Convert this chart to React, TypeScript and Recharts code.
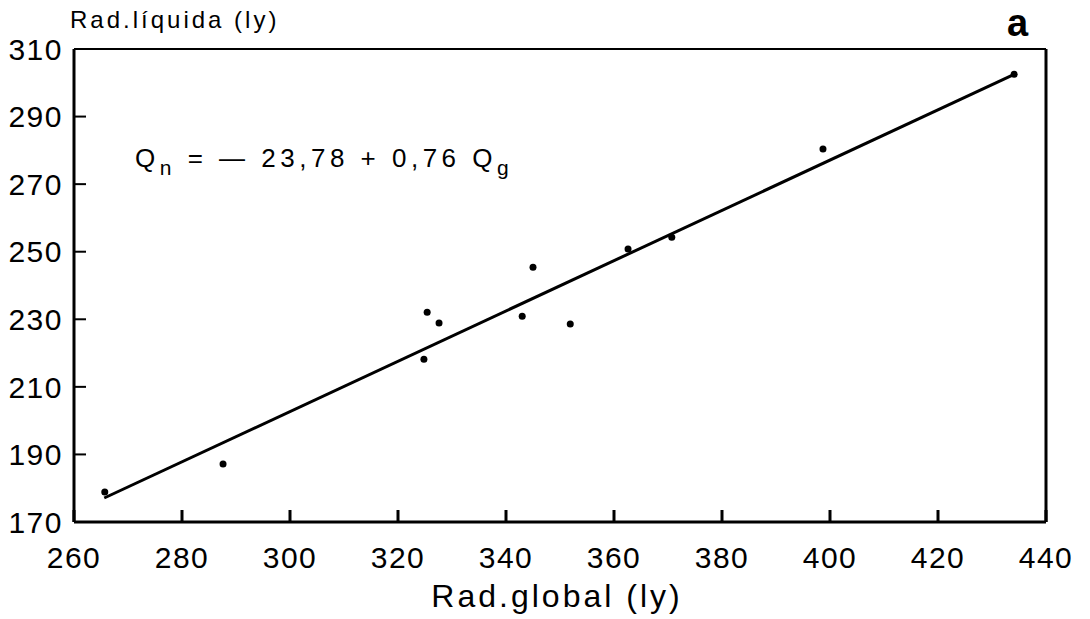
import {
	ScatterChart,
	Scatter,
	XAxis,
	YAxis,
	ReferenceLine,
} from "recharts"

// readings taken off the figure (ly)
const radGlobal = [265.7, 287.6, 324.8, 325.4, 327.6, 343.0, 345.0, 351.9, 362.6, 370.7, 398.7, 434.1]
const radLiquida = [178.9, 187.2, 218.2, 232.1, 228.9, 230.9, 245.4, 228.6, 250.8, 254.3, 280.4, 302.5]

// ends of the drawn regression line
const fitGlobal = [265.6, 434.1]
const fitLiquida = [177.1, 302.5]

const xTicks = [260, 280, 300, 320, 340, 360, 380, 400, 420, 440]
const yTicks = [170, 190, 210, 230, 250, 270, 290, 310]

const points = radGlobal.map((qg, i) => ({ qg, qn: radLiquida[i] }))
const fitLine = fitGlobal.map((qg, i) => ({ qg, qn: fitLiquida[i] }))

const font = "'Liberation Sans', Arial, sans-serif"
const tickStyle = { fill: "#000", fontSize: 30, fontFamily: font, letterSpacing: 1.5 }

const Dot = (p: any) => <circle cx={p.cx} cy={p.cy} r={3.5} fill="#000" />
const NoDot = () => <g />

const App = () => (
	<div style={{ position: "absolute", left: 0, top: 0, width: 1090, height: 619, background: "#fff", fontFamily: font }}>
		<ScatterChart width={1090} height={619} margin={{ top: 49, right: 44, left: 0, bottom: 0 }}>
			<XAxis
				type="number"
				dataKey="qg"
				domain={[260, 440]}
				ticks={xTicks}
				height={97}
				tickSize={-12}
				tickMargin={37}
				tick={tickStyle}
				axisLine={{ stroke: "#000", strokeWidth: 3 }}
				tickLine={{ stroke: "#000", strokeWidth: 3 }}
				allowDataOverflow
			/>
			<YAxis
				type="number"
				dataKey="qn"
				domain={[170, 310]}
				ticks={yTicks}
				width={74}
				tickSize={-12}
				tickMargin={23}
				tick={tickStyle}
				axisLine={{ stroke: "#000", strokeWidth: 3 }}
				tickLine={{ stroke: "#000", strokeWidth: 2 }}
				allowDataOverflow
			/>
			<ReferenceLine y={310} stroke="#000" strokeWidth={2} />
			<ReferenceLine x={440} stroke="#000" strokeWidth={3} />
			<Scatter data={fitLine} line={{ stroke: "#000", strokeWidth: 3 }} shape={NoDot} isAnimationActive={false} />
			<Scatter data={points} shape={Dot} isAnimationActive={false} />
		</ScatterChart>

		<div style={{ position: "absolute", left: 70, top: 8, fontSize: 24, letterSpacing: 3, lineHeight: 1 }}>
			Rad.líquida (ly)
		</div>
		<div style={{ position: "absolute", left: 1007, top: 4, fontSize: 38, fontWeight: "bold", lineHeight: 1 }}>
			a
		</div>
		<div style={{ position: "absolute", left: 135, top: 145, fontSize: 26, letterSpacing: 4.5, lineHeight: 1, whiteSpace: "nowrap" }}>
			Q<sub style={{ fontSize: 21, verticalAlign: "-0.4em" }}>n</sub> = — 23,78 + 0,76 Q<sub style={{ fontSize: 21, verticalAlign: "-0.4em" }}>g</sub>
		</div>
		<div style={{ position: "absolute", left: 0, width: 1114, top: 580, textAlign: "center", fontSize: 32, letterSpacing: 3, lineHeight: 1 }}>
			Rad.global (ly)
		</div>
	</div>
)

export default App
